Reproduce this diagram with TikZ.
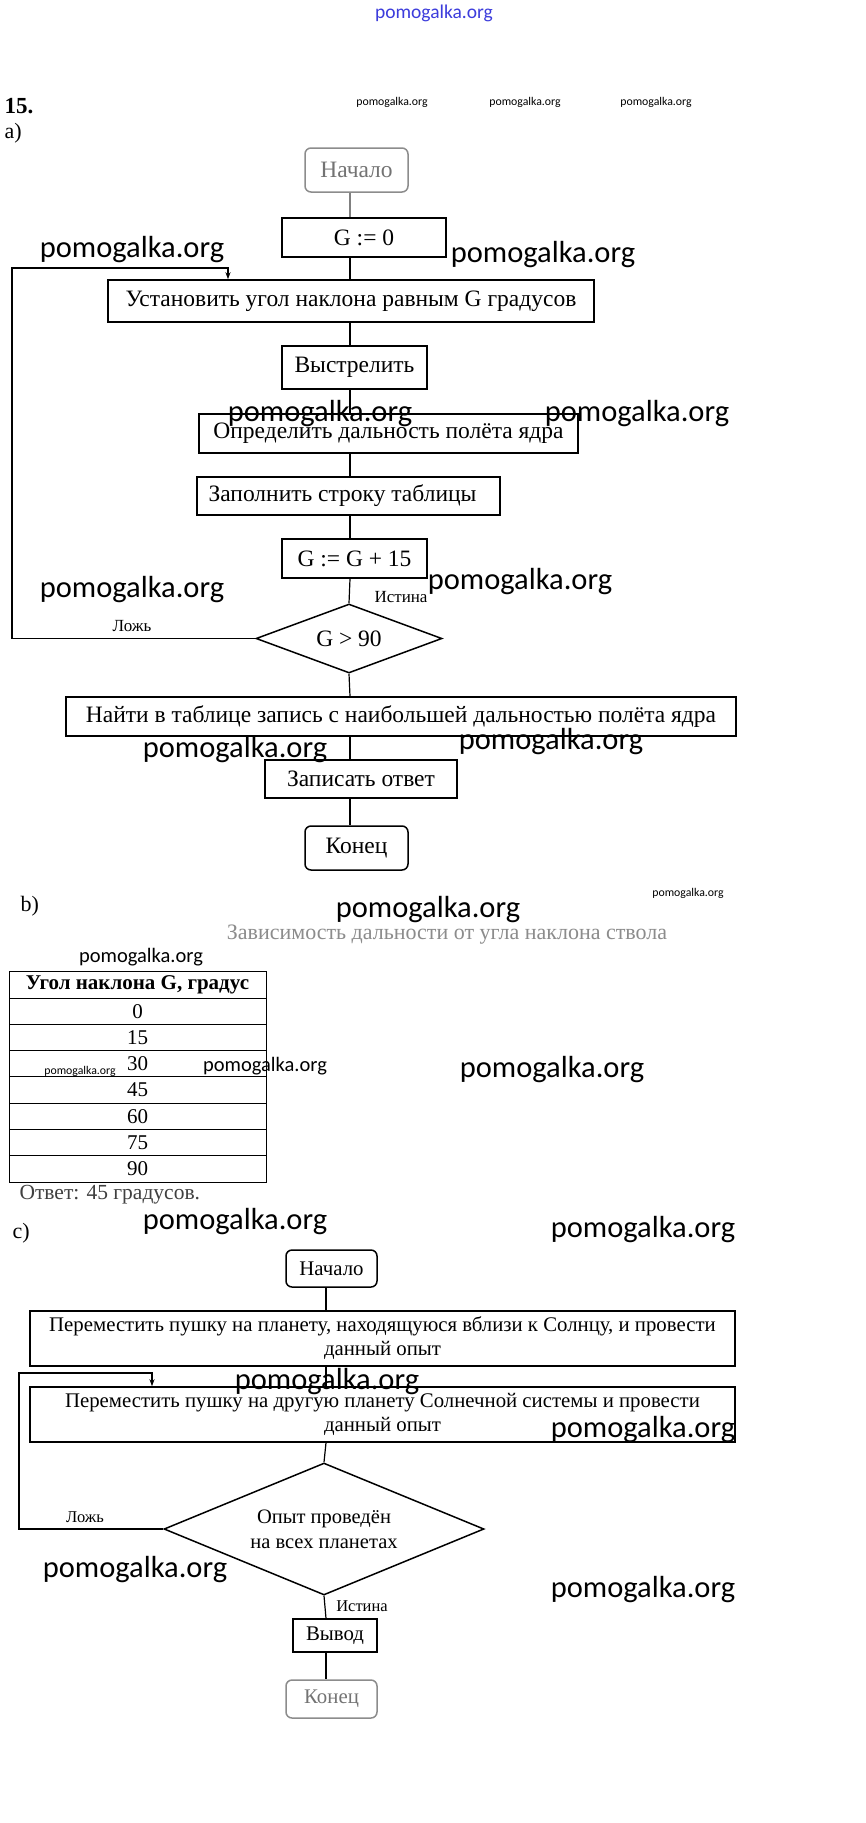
\documentclass[tikz,border=0pt]{standalone}
\usepackage{fontspec}
\setmainfont{Liberation Serif}
\newfontfamily\wmfont{Carlito}
\usetikzlibrary{shapes.geometric,arrows.meta,calc}
\newcommand\fsz[2]{\fontsize{#1}{#2}\selectfont}
\definecolor{wmblue}{RGB}{60,60,220}
\begin{document}
\begin{tikzpicture}[x=1pt,y=-1pt,
  box/.style={draw,line width=1.5pt,inner sep=0pt,align=center},
  term/.style={box,rounded corners=6pt},
  dia/.style={draw,line width=1.5pt,shape=diamond,aspect=2.5,inner sep=0pt,align=center},
  conn/.style={line width=1.2pt},
  arr/.style={conn,-{Stealth[length=7pt,width=5pt]}},
  wmbig/.style={font=\wmfont\fsz{30.5}{34}},
  wmmid/.style={font=\wmfont\fsz{20.5}{24}},
  wmsmall/.style={font=\wmfont\fsz{11.8}{14}},
  fa/.style={font=\fsz{23.5}{27}},
  fc/.style={font=\fsz{20.8}{24}},
  lbl/.style={font=\fsz{17}{19}},
  cell/.style={draw,line width=1pt,minimum width=257pt,inner sep=0pt,font=\fsz{21}{24}},
  faded/.style={draw=black!45,text=black!55},
]
\useasboundingbox[fill=white] (0,0) rectangle (866,1823);

% ---------- headings ----------
\node[font=\bfseries\fsz{23}{26},anchor=west] (n15) at (1,106) {15.};
\node[font=\fsz{22}{26},anchor=west] (la) at (1,133) {a)};

% ---------- part a ----------
\coordinate (sa) at (350,0);
\node[term,faded,fa,minimum width=103pt,minimum height=44pt] (start1) at (356.5,170) {Начало};
\node[box,fa,line width=2pt,minimum width=164pt,minimum height=39pt] (g0) at (364,237.5) {G := 0};
\node[box,fa,minimum width=486pt,minimum height=42pt] (setang) at (351,301) {Установить угол наклона равным G градусов};
\node[box,fa,minimum width=145pt,minimum height=43pt] (shoot) at (354.5,367.5) {Выстрелить};
\node[box,fa,minimum width=379pt,minimum height=39pt] (det) at (388.5,433.5) {Определить дальность полёта ядра};
\node[box,fa,minimum width=303pt,minimum height=38pt] (fill) at (348.5,496) {Заполнить строку таблицы\hspace{12pt}};
\node[box,fa,minimum width=145pt,minimum height=39pt] (inc) at (354.5,558.5) {G := G + 15};
\node[dia,fa,minimum width=186pt,minimum height=69pt] (cond) at (349,638.5) {G > 90};
\node[box,fa,minimum width=670pt,minimum height=39pt] (find) at (401,716.5) {Найти в таблице запись с наибольшей дальностью полёта ядра};
\node[box,fa,minimum width=192pt,minimum height=38pt] (write) at (361,779) {Записать ответ};
\node[term,fa,minimum width=103pt,minimum height=44pt] (end1) at (356.5,848) {Конец};

\draw[conn,black!50] (start1.south -| sa) -- (g0.north -| sa);
\draw[conn] (g0.south -| sa) -- (setang.north -| sa);
\draw[conn] (setang.south -| sa) -- (shoot.north -| sa);
\draw[conn] (shoot.south -| sa) -- (det.north -| sa);
\draw[conn] (det.south -| sa) -- (fill.north -| sa);
\draw[conn] (fill.south -| sa) -- (inc.north -| sa);
\draw[conn] (inc.south -| sa) -- (cond.north);
\draw[conn] (cond.south) -- (find.north -| sa);
\draw[conn] (find.south -| sa) -- (write.north -| sa);
\draw[conn] (write.south -| sa) -- (end1.north -| sa);

\coordinate (loopA) at (12,268);
\coordinate (arrA) at (228,268);
\draw[arr] (cond.west) -| (loopA) -- (arrA) -- (arrA |- setang.north);
\node[lbl] (ist1) at (401,597) {Истина};
\node[lbl] (lozh1) at (132,626) {Ложь};

% ---------- part b ----------
\node[font=\fsz{22}{26},anchor=west] (lb) at (17,906) {b)};
\node[font=\fsz{22}{26},text=black!45] (title) at (447,935) {Зависимость дальности от угла наклона ствола};
\node[cell,font=\bfseries\fsz{21}{24},minimum height=27pt] (hdr) at (137.5,984.5) {Угол наклона G, градус};
\foreach \v [count=\i] in {0,15,30,45,60,75,90}{
  \node[cell,minimum height=26.3pt] (r\i) at (137.5,{998+(\i-0.5)*26.3}) {\v};
}
\node[font=\fsz{21.5}{24},text=black!75,anchor=west] (ans) at (16,1195) {Ответ: 45 градусов.};
\node[font=\fsz{22}{26},anchor=west] (lc) at (9,1233) {c)};

% ---------- part c ----------
\coordinate (sc) at (326,0);
\node[term,fc,minimum width=91pt,minimum height=37pt] (start2) at (331.5,1268.5) {Начало};
\node[box,fc,minimum width=705pt,minimum height=55pt] (p1) at (382.5,1338.5) {Переместить пушку на планету, находящуюся вблизи к Солнцу, и провести\\данный опыт};
\node[box,fc,minimum width=705pt,minimum height=55pt] (p2) at (382.5,1414.5) {Переместить пушку на другую планету Солнечной системы и провести\\данный опыт};
\node[dia,fc,font=\fsz{20.5}{25},minimum width=320pt,minimum height=132pt] (cond2) at (324,1529) {Опыт проведён\\на всех планетах};
\node[box,fc,minimum width=84pt,minimum height=33pt] (out) at (335,1635.5) {Вывод};
\node[term,faded,fc,minimum width=91pt,minimum height=38pt] (end2) at (331.5,1699) {Конец};

\draw[conn] (start2.south -| sc) -- (p1.north -| sc);
\draw[conn] (p1.south -| sc) -- (p2.north -| sc);
\draw[conn] (p2.south -| sc) -- (cond2.north);
\draw[conn] (cond2.south) -- (out.north -| sc);
\draw[conn] (out.south -| sc) -- (end2.north -| sc);

\coordinate (loopC) at (19,1373);
\coordinate (arrC) at (152,1373);
\draw[arr] (cond2.west) -| (loopC) -- (arrC) -- (arrC |- p2.north);
\node[lbl,font=\fsz{16.5}{19}] (ist2) at (362,1606) {Истина};
\node[lbl,font=\fsz{16.5}{19}] (lozh2) at (85,1517) {Ложь};

% ---------- watermarks ----------
\node[font=\wmfont\fsz{19.5}{22},text=wmblue] (wtop) at (434,13) {pomogalka.org};
\node[wmsmall] (ws1) at (392,102) {pomogalka.org};
\node[wmsmall] (ws2) at (525,102) {pomogalka.org};
\node[wmsmall] (ws3) at (656,102) {pomogalka.org};
\node[wmbig] (w1) at (132,250) {pomogalka.org};
\node[wmbig] (w2) at (543,255) {pomogalka.org};
\node[wmbig] (w3) at (320,414) {pomogalka.org};
\node[wmbig] (w4) at (637,414) {pomogalka.org};
\node[wmbig] (w5) at (520,582) {pomogalka.org};
\node[wmbig] (w6) at (132,590) {pomogalka.org};
\node[wmbig] (w7) at (235,750) {pomogalka.org};
\node[wmbig] (w8) at (551,742) {pomogalka.org};
\node[wmsmall] (ws4) at (688,893) {pomogalka.org};
\node[wmbig] (w9) at (428,910) {pomogalka.org};
\node[wmmid] (wm1) at (141,957) {pomogalka.org};
\node[wmsmall] (ws5) at (80,1071) {pomogalka.org};
\node[wmmid] (wm2) at (265,1066) {pomogalka.org};
\node[wmbig] (w10) at (552,1070) {pomogalka.org};
\node[wmbig] (w11) at (235,1222) {pomogalka.org};
\node[wmbig] (w12) at (643,1230) {pomogalka.org};
\node[wmbig] (w13) at (327,1382) {pomogalka.org};
\node[wmbig] (w14) at (643,1430) {pomogalka.org};
\node[wmbig] (w15) at (135,1570) {pomogalka.org};
\node[wmbig] (w16) at (643,1590) {pomogalka.org};
\end{tikzpicture}
\end{document}
